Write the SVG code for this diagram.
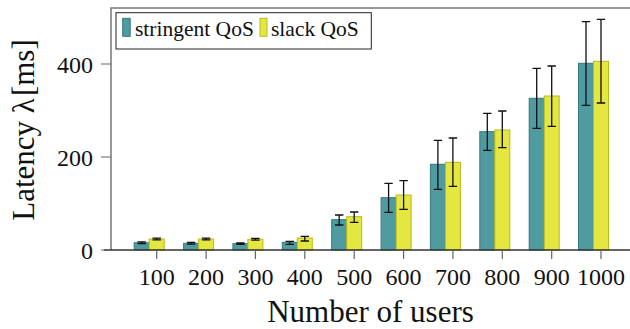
<svg xmlns="http://www.w3.org/2000/svg" width="630" height="329" viewBox="0 0 630 329">
<style>
text{font-family:'Liberation Serif','DejaVu Serif',serif;fill:#111}
.tl{font-size:24px;text-anchor:middle}
.yl{font-size:24px;text-anchor:end}
.al{font-size:31px;text-anchor:middle}
.lg{font-size:21.5px}
.t{fill:#4f9ba0;stroke:#34797e;stroke-width:1}
.y{fill:#e4e642;stroke:#b9ba1e;stroke-width:1}
.e{fill:none;stroke:#111;stroke-width:1.3}
.tk{stroke:#666;stroke-width:1.2}
</style>
<rect width="630" height="329" fill="#fff"/>
<g id="frame">
<path d="M111 250 V8 H632" fill="none" stroke="#777" stroke-width="1.5"/>
</g>
<g id="bars">
<rect class="t" x="134.2" y="242.7" width="15" height="7.3"/>
<rect class="y" x="149.2" y="239" width="15" height="11"/>
<rect class="t" x="183.6" y="243.3" width="15" height="6.7"/>
<rect class="y" x="198.6" y="239" width="15" height="11"/>
<rect class="t" x="232.9" y="243.7" width="15" height="6.3"/>
<rect class="y" x="247.9" y="239.3" width="15" height="10.7"/>
<rect class="t" x="282.3" y="242.3" width="15" height="7.7"/>
<rect class="y" x="297.3" y="238" width="15" height="12"/>
<rect class="t" x="331.7" y="219.7" width="15" height="30.3"/>
<rect class="y" x="346.7" y="216.7" width="15" height="33.3"/>
<rect class="t" x="381.1" y="197.7" width="15" height="52.3"/>
<rect class="y" x="396.1" y="195" width="15" height="55"/>
<rect class="t" x="430.4" y="164.3" width="15" height="85.7"/>
<rect class="y" x="445.4" y="162.3" width="15" height="87.7"/>
<rect class="t" x="479.8" y="131.7" width="15" height="118.3"/>
<rect class="y" x="494.8" y="130" width="15" height="120"/>
<rect class="t" x="529.2" y="98.3" width="15" height="151.7"/>
<rect class="y" x="544.2" y="96" width="15" height="154"/>
<rect class="t" x="578.5" y="63.3" width="15" height="186.7"/>
<rect class="y" x="593.5" y="61.3" width="15" height="188.7"/>
</g>
<g id="errorbars">
<path class="e" d="M141.7 241.8V243.6M137.5 241.8H145.9M137.5 243.6H145.9"/>
<path class="e" d="M156.7 238.1V239.9M152.5 238.1H160.9M152.5 239.9H160.9"/>
<path class="e" d="M191.1 242.4V244.2M186.9 242.4H195.3M186.9 244.2H195.3"/>
<path class="e" d="M206.1 238.1V239.9M201.9 238.1H210.3M201.9 239.9H210.3"/>
<path class="e" d="M240.4 243V244.4M236.2 243H244.6M236.2 244.4H244.6"/>
<path class="e" d="M255.4 238.4V240.2M251.2 238.4H259.6M251.2 240.2H259.6"/>
<path class="e" d="M289.8 241.3V244.3M285.6 241.3H294M285.6 244.3H294"/>
<path class="e" d="M304.8 236.3V241M300.6 236.3H309M300.6 241H309"/>
<path class="e" d="M339.2 215V225M335 215H343.4M335 225H343.4"/>
<path class="e" d="M354.2 212V222.3M350 212H358.4M350 222.3H358.4"/>
<path class="e" d="M388.6 183.3V212.3M384.4 183.3H392.8M384.4 212.3H392.8"/>
<path class="e" d="M403.6 180.7V209.3M399.4 180.7H407.8M399.4 209.3H407.8"/>
<path class="e" d="M437.9 140.3V189.3M433.7 140.3H442.1M433.7 189.3H442.1"/>
<path class="e" d="M452.9 138V186.3M448.7 138H457.1M448.7 186.3H457.1"/>
<path class="e" d="M487.3 113.3V150.3M483.1 113.3H491.5M483.1 150.3H491.5"/>
<path class="e" d="M502.3 111V147.7M498.1 111H506.5M498.1 147.7H506.5"/>
<path class="e" d="M536.7 68.3V128.3M532.5 68.3H540.9M532.5 128.3H540.9"/>
<path class="e" d="M551.7 66V126.3M547.5 66H555.9M547.5 126.3H555.9"/>
<path class="e" d="M586 21.7V105.3M581.8 21.7H590.2M581.8 105.3H590.2"/>
<path class="e" d="M601 19.3V103M596.8 19.3H605.2M596.8 103H605.2"/>
</g>
<g id="axes">
<path d="M104 250H632" stroke="#333" stroke-width="1.3"/>
<path class="tk" d="M101 250H111M101 157H111M101 64H111"/>
<path class="tk" d="M156.7 250V259M206.1 250V259M255.4 250V259M304.8 250V259M354.2 250V259M403.6 250V259M452.9 250V259M502.3 250V259M551.7 250V259M601 250V259"/>
</g>
<g id="ticklabels" font-family="Liberation Serif, DejaVu Serif, serif">
<text class="yl" x="93" y="258.5">0</text>
<text class="yl" x="93" y="165.5">200</text>
<text class="yl" x="93" y="72.5">400</text>
<text class="tl" x="156.7" y="285">100</text>
<text class="tl" x="206.1" y="285">200</text>
<text class="tl" x="255.4" y="285">300</text>
<text class="tl" x="304.8" y="285">400</text>
<text class="tl" x="354.2" y="285">500</text>
<text class="tl" x="403.6" y="285">600</text>
<text class="tl" x="452.9" y="285">700</text>
<text class="tl" x="502.3" y="285">800</text>
<text class="tl" x="551.7" y="285">900</text>
<text class="tl" x="601" y="285">1000</text>
</g>
<g id="axislabels">
<text class="al" x="370.5" y="321.5">Number of users</text>
<text class="al" transform="translate(33.5 130) rotate(-90)">Latency λ<tspan dx="2">[ms]</tspan></text>
</g>
<g id="legend">
<rect x="116" y="12.7" width="255.3" height="36.3" fill="#fff" stroke="#222" stroke-width="1"/>
<rect class="t" x="122.7" y="18.3" width="7.5" height="18"/>
<text class="lg" x="135" y="35.7">stringent QoS</text>
<rect class="y" x="260" y="18.3" width="7" height="18"/>
<text class="lg" x="271" y="35.7">slack QoS</text>
</g>
</svg>
